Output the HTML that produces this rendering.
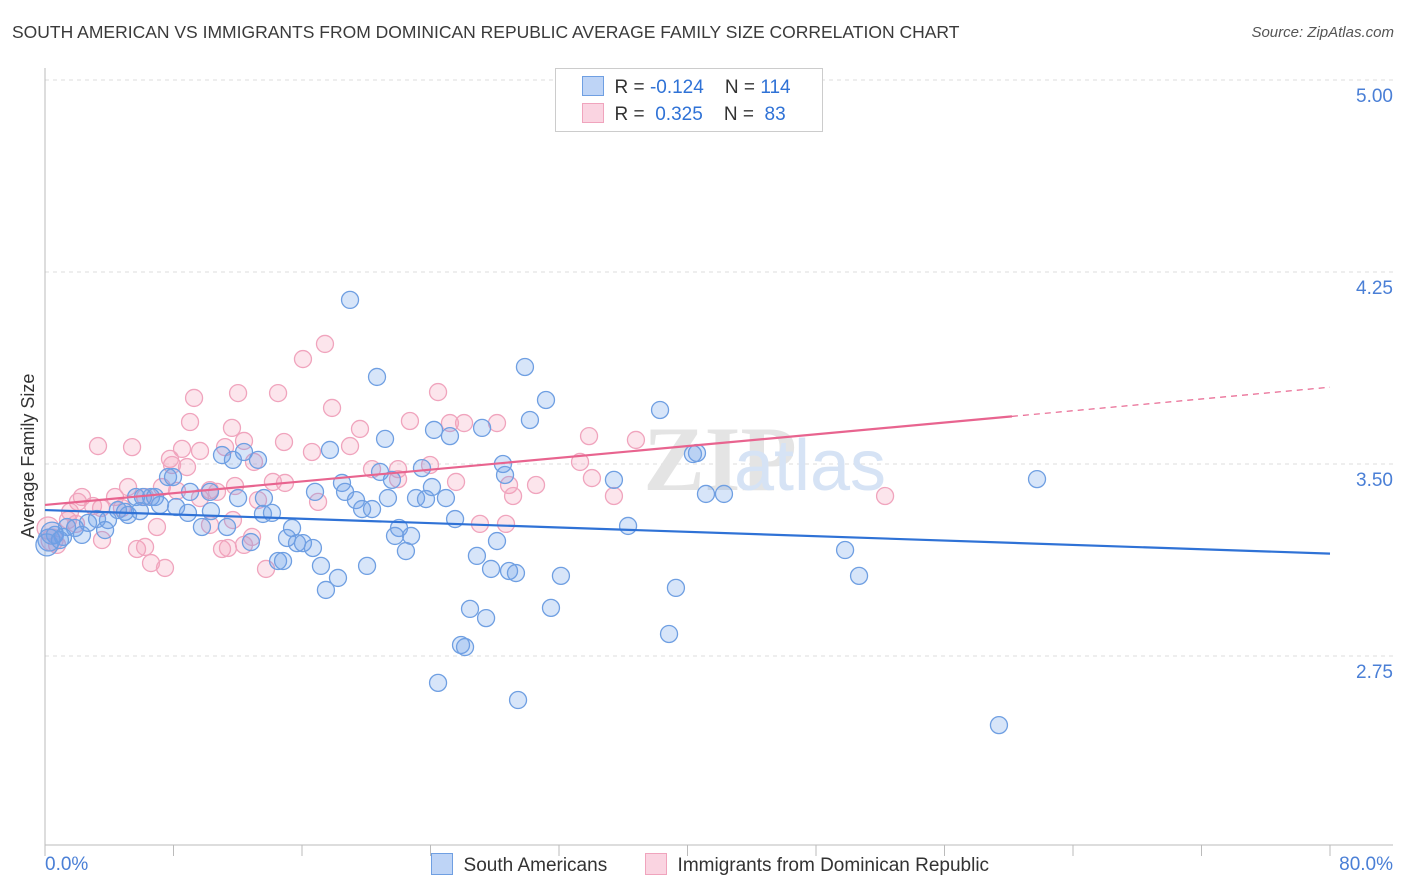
<!DOCTYPE html>
<html><head><meta charset="utf-8"><style>
body{margin:0;background:#fff;font-family:"Liberation Sans",sans-serif;}
#wrap{position:relative;width:1406px;height:892px;overflow:hidden;}
.t{position:absolute;white-space:nowrap;}
</style></head><body>
<div id="wrap">
<div class="t" style="left:12px;top:22px;font-size:17.5px;color:#3a3a3a;">SOUTH AMERICAN VS IMMIGRANTS FROM DOMINICAN REPUBLIC AVERAGE FAMILY SIZE CORRELATION CHART</div>
<div class="t" style="right:12px;top:24px;font-size:15px;color:#555;font-style:italic;">Source: ZipAtlas.com</div>
<svg id="svg" width="1406" height="892" style="position:absolute;left:0;top:0"></svg>
</div>
<script>
const yTicks=[5.00,4.25,3.50,2.75];
const xTickLabels=["0.0%","80.0%"];
const blueX=[],blueY=[],pinkX=[],pinkY=[];
const bluePx=[[350,300],[377,377],[525,367],[546,400],[660,410],[530,420],[434,430],[450,436],[482,428],[385,439],[330,450],[222,455],[233,460],[258,460],[244,452],[168,477],[173,477],[503,464],[505,475],[422,468],[380,472],[392,480],[342,483],[345,492],[315,492],[190,492],[210,492],[238,498],[264,498],[356,500],[362,509],[372,509],[388,498],[416,498],[426,499],[446,498],[432,487],[614,480],[697,453],[693,454],[706,494],[724,494],[1037,479],[176,507],[188,513],[211,511],[263,514],[272,513],[151,497],[143,497],[155,497],[136,497],[125,512],[118,510],[128,515],[108,520],[97,519],[88,523],[75,528],[67,527],[55,535],[49,540],[63,537],[82,535],[105,530],[202,527],[227,527],[292,528],[455,519],[399,528],[395,536],[411,536],[628,526],[287,538],[297,543],[303,543],[313,548],[251,542],[406,551],[477,556],[497,541],[845,550],[321,566],[338,578],[367,566],[491,569],[509,571],[516,573],[561,576],[859,576],[278,561],[283,561],[326,590],[676,588],[470,609],[551,608],[486,618],[669,634],[461,645],[465,647],[438,683],[518,700],[999,725],[140,511],[160,505],[47,545],[52,533],[60,540]];
const pinkPx=[[325,344],[303,359],[238,393],[278,393],[438,392],[194,398],[332,408],[190,422],[232,428],[410,421],[464,423],[450,423],[360,429],[497,423],[98,446],[132,447],[182,449],[244,441],[225,447],[284,442],[200,451],[350,446],[589,436],[636,440],[312,452],[170,459],[187,467],[172,465],[254,462],[372,469],[398,479],[273,482],[285,483],[456,482],[509,485],[536,485],[580,462],[430,465],[398,469],[592,478],[210,490],[235,486],[217,492],[200,498],[162,487],[177,491],[128,487],[145,497],[82,497],[78,502],[115,497],[93,506],[70,512],[68,520],[122,508],[101,508],[258,500],[318,502],[513,496],[614,496],[885,496],[480,524],[506,524],[157,527],[102,540],[137,549],[145,547],[228,548],[222,549],[244,545],[252,537],[151,563],[165,568],[266,569],[57,545],[52,540],[48,528],[76,524],[210,525],[233,520]];
// convert read pixel positions to data values (percent, family size)
bluePx.forEach(p=>{blueX.push(+((p[0]-45)/1285*80).toFixed(2));blueY.push(+(5-(p[1]-80)*0.75/192).toFixed(3));});
pinkPx.forEach(p=>{pinkX.push(+((p[0]-45)/1285*80).toFixed(2));pinkY.push(+(5-(p[1]-80)*0.75/192).toFixed(3));});
const blueTrend=[3.32,3.15];   // at x=0 and x=80
const pinkTrend=[3.34,3.80];   // at x=0 and x=80, solid until 60
const sx=v=>45+v/80*1285;
const sy=v=>80+(5-v)/0.75*192;
const svg=document.getElementById('svg');
const NS='http://www.w3.org/2000/svg';
function mk(tag,attrs){const e=document.createElementNS(NS,tag);for(const k in attrs)e.setAttribute(k,attrs[k]);svg.appendChild(e);return e;}
yTicks.forEach(v=>{
 const l=mk('line',{x1:45,x2:1393,y1:sy(v),y2:sy(v),stroke:'#ddd','stroke-dasharray':'4,4'});
 
 
 const t=mk('text',{x:1393,y:sy(v)+22,'text-anchor':'end','font-size':'19',fill:'#4a7fd6','font-family':'Liberation Sans'});
 t.textContent=v.toFixed(2);
 
 
});
mk('line',{x1:45,x2:45,y1:68,y2:846,stroke:'#bbb'});
mk('line',{x1:45,x2:1393,y1:845,y2:845,stroke:'#bbb'});
for(let i=0;i<=10;i++){const x=sx(i*8);const tk=mk('line',{x1:x,x2:x,y1:845,y2:856,stroke:'#bbb'});
 
 }
const xl0=mk('text',{x:45,y:870,'font-size':'19',fill:'#4a7fd6','font-family':'Liberation Sans'});xl0.textContent=xTickLabels[0];


const xl1=mk('text',{x:1393,y:870,'text-anchor':'end','font-size':'19',fill:'#4a7fd6','font-family':'Liberation Sans'});xl1.textContent=xTickLabels[1];


const yt=mk('text',{x:34,y:456,'text-anchor':'middle','font-size':'18',fill:'#333',transform:'rotate(-90 34 456)','font-family':'Liberation Sans'});yt.textContent='Average Family Size';


const wm=mk('text',{x:720,y:490,'text-anchor':'middle','font-size':'92',fill:'#e4e4e4','font-family':'Liberation Serif','font-weight':'bold'});wm.textContent='ZIP';


const wm2=mk('text',{x:810,y:490,'text-anchor':'middle','font-size':'72',fill:'#d6e3f5','font-family':'Liberation Sans'});wm2.textContent='atlas';


function pts(X,Y,fill,stroke,name){X.forEach((x,i)=>{const c=mk('circle',{cx:sx(x),cy:sy(Y[i]),r:(x<0.5?11:8.5),fill:fill,stroke:stroke,'stroke-width':1.3});
 
 });}
pts(pinkX,pinkY,'rgba(244,160,188,0.28)','#f0a4bd','point-dominican');
pts(blueX,blueY,'rgba(110,160,235,0.28)','#6f9fe2','point-south-american');
const bt=mk('line',{x1:sx(0),y1:sy(blueTrend[0]),x2:sx(80),y2:sy(blueTrend[1]),stroke:'#2f72d6','stroke-width':2.2});


const pAt=v=>pinkTrend[0]+(pinkTrend[1]-pinkTrend[0])*v/80;
const pt=mk('line',{x1:sx(0),y1:sy(pAt(0)),x2:sx(60.2),y2:sy(pAt(60.2)),stroke:'#e8648f','stroke-width':2.2});


const pd=mk('line',{x1:sx(60.2),y1:sy(pAt(60.2)),x2:sx(80),y2:sy(pAt(80)),stroke:'#e8648f','stroke-width':1.2,'stroke-dasharray':'6,5'});


</script>
<div class="t" style="left:555px;top:68px;width:266px;height:62px;border:1px solid #ccc;background:#fff;font-size:19px;color:#333;">
 <div style="position:absolute;left:26px;top:7px;"><span style="display:inline-block;width:20px;height:18px;background:rgba(110,160,235,0.45);border:1px solid #6f9fe2;vertical-align:-3px;"></span>&nbsp; R = <span style="color:#2f72d6">-0.124</span>&nbsp;&nbsp;&nbsp; N = <span style="color:#2f72d6">114</span></div>
 <div style="position:absolute;left:26px;top:34px;"><span style="display:inline-block;width:20px;height:18px;background:rgba(244,160,188,0.45);border:1px solid #f0a4bd;vertical-align:-3px;"></span>&nbsp; R = &nbsp;<span style="color:#2f72d6">0.325</span>&nbsp;&nbsp;&nbsp; N = &nbsp;<span style="color:#2f72d6">83</span></div>
</div>
<div class="t" style="left:431px;top:853px;font-size:19px;color:#333;"><span style="display:inline-block;width:20px;height:20px;background:rgba(110,160,235,0.45);border:1px solid #6f9fe2;vertical-align:-4px;"></span>&nbsp; South Americans</div>
<div class="t" style="left:645px;top:853px;font-size:19px;color:#333;"><span style="display:inline-block;width:20px;height:20px;background:rgba(244,160,188,0.45);border:1px solid #f0a4bd;vertical-align:-4px;"></span>&nbsp; Immigrants from Dominican Republic</div>
</body></html>
